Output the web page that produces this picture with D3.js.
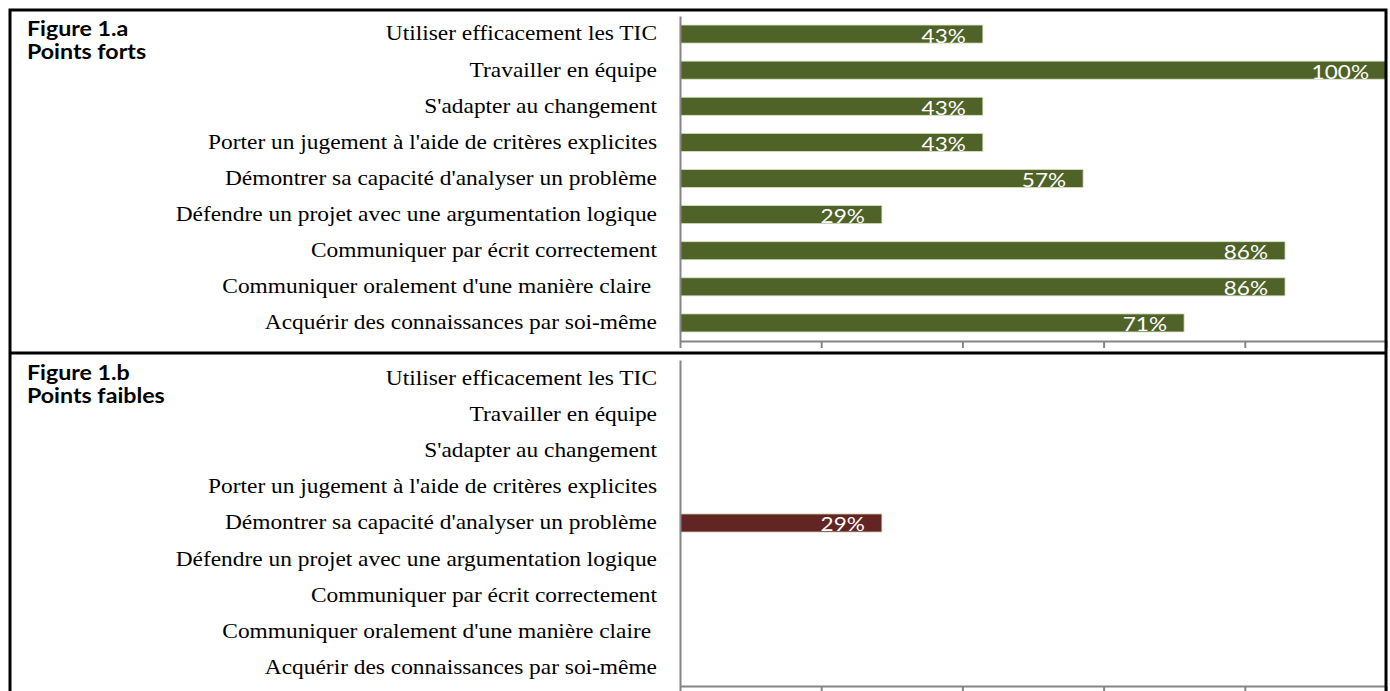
<!DOCTYPE html>
<meta charset="utf-8">
<style>
body { margin: 0; background: #fff; }
svg { display: block; }
.cat text { font: 20px "Liberation Serif", serif; fill: #000; white-space: pre; }
.val { font: 20px Lato, sans-serif; fill: #fff; }
.title { font: bold 20px Lato, sans-serif; fill: #000; }
.axis path, .axis line { stroke: #868686; stroke-width: 2; }
</style>
<svg width="1390" height="691"></svg>
<script src="https://d3js.org/d3.v7.min.js"></script>
<script>

// categories, top to bottom
var categories = [
  "Utiliser efficacement les TIC",
  "Travailler en équipe",
  "S'adapter au changement",
  "Porter un jugement à l'aide de critères explicites",
  "Démontrer sa capacité d'analyser un problème",
  "Défendre un projet avec une argumentation logique",
  "Communiquer par écrit correctement",
  "Communiquer oralement d'une manière claire ",
  "Acquérir des connaissances par soi-même"
];

// share of respondents
var strongValues = [0.429, 1.0, 0.429, 0.429, 0.571, 0.286, 0.857, 0.857, 0.714];
var weakValues   = [0, 0, 0, 0, 0.286, 0, 0, 0, 0];

var xTicks = [0, 0.2, 0.4, 0.6, 0.8, 1.0];

// the original picture is stretched sideways
var catStretch = 1.17, valStretch = 1.13, titleStretch = 1.16;

var svg = d3.select("svg");

var x = d3.scaleLinear().domain([0, 1]).range([680, 1386]);

function panel(values, top, bottom, color, title1, title2) {
  var y = d3.scaleBand()
      .domain(categories)
      .range([top, bottom])
      .paddingInner(0.5)
      .paddingOuter(0.25);

  var g = svg.append("g");

  g.append("text").attr("class", "title")
    .attr("transform", "translate(27," + (top + 20) + ") scale(" + titleStretch + ",1)")
    .text(title1);
  g.append("text").attr("class", "title")
    .attr("transform", "translate(27," + (top + 43) + ") scale(" + titleStretch + ",1)")
    .text(title2);

  var rows = categories.map(function(c, i) { return {cat: c, v: values[i]}; });

  g.selectAll("rect.bar")
    .data(rows.filter(function(d) { return d.v > 0; }))
    .enter().append("rect")
      .attr("class", "bar")
      .attr("x", x(0))
      .attr("y", function(d) { return y(d.cat); })
      .attr("width", function(d) { return x(d.v) - x(0); })
      .attr("height", y.bandwidth())
      .attr("fill", color)
      .attr("stroke", "#d9e2c4")
      .attr("stroke-width", 0.8);

  g.selectAll("text.val")
    .data(rows.filter(function(d) { return d.v > 0; }))
    .enter().append("text")
      .attr("class", "val")
      .attr("transform", function(d) {
        return "translate(" + (x(d.v) - 17) + "," + (y(d.cat) + y.bandwidth() / 2 + 1) + ") scale(" + valStretch + ",1)";
      })
      .attr("text-anchor", "end")
      .attr("dominant-baseline", "central")
      .text(function(d) { return d3.format(".0%")(d.v); });

  g.append("g")
    .attr("class", "axis")
    .attr("transform", "translate(0," + bottom + ")")
    .call(d3.axisBottom(x).tickValues(xTicks).tickSize(7).tickSizeOuter(0).tickFormat(""));

  var yAxis = g.append("g")
    .attr("class", "axis cat")
    .attr("transform", "translate(" + x(0) + ",0)")
    .call(d3.axisLeft(y).tickSize(0).tickSizeOuter(0).tickPadding(23));
  yAxis.selectAll("text")
    .attr("x", -23 / catStretch)
    .attr("transform", "scale(" + catStretch + ",1)");
}

panel(strongValues, 16, 341, "#4f6228", "Figure 1.a", "Points forts");
panel(weakValues, 360, 686, "#632523", "Figure 1.b", "Points faibles");

// frame
svg.append("rect")
  .attr("x", 10).attr("y", 10)
  .attr("width", 1376).attr("height", 700)
  .attr("fill", "none").attr("stroke", "#000").attr("stroke-width", 3);
svg.append("line")
  .attr("x1", 10).attr("x2", 1386).attr("y1", 353).attr("y2", 353)
  .attr("stroke", "#000").attr("stroke-width", 3);

</script>
